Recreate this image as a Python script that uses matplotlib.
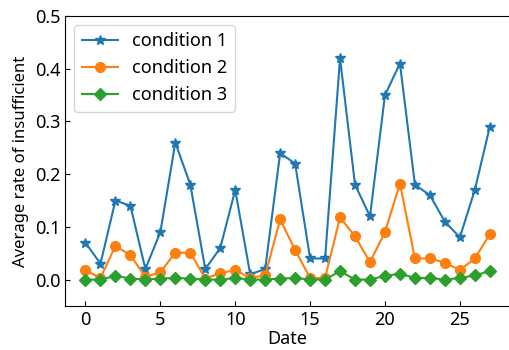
import matplotlib
matplotlib.use("Agg")
import matplotlib.pyplot as plt

plt.rcParams["font.family"] = ["Noto Sans", "DejaVu Sans"]

dates = list(range(28))
cond1 = [0.07, 0.03, 0.15, 0.14, 0.02, 0.09, 0.26, 0.18, 0.02, 0.06,
         0.17, 0.01, 0.02, 0.24, 0.22, 0.04, 0.04, 0.42, 0.18, 0.12,
         0.35, 0.41, 0.18, 0.16, 0.11, 0.08, 0.17, 0.29]
cond2 = [0.018, 0.003, 0.064, 0.046, 0.005, 0.014, 0.051, 0.051, 0.002, 0.012,
         0.018, 0.003, 0.008, 0.114, 0.056, 0.003, 0.003, 0.118, 0.082, 0.033,
         0.090, 0.182, 0.040, 0.040, 0.032, 0.018, 0.040, 0.086]
cond3 = [0.0, 0.0, 0.007, 0.002, 0.0, 0.002, 0.003, 0.002, 0.0, 0.0,
         0.003, 0.0, 0.0, 0.002, 0.003, 0.0, 0.0, 0.016, 0.0, 0.0,
         0.007, 0.011, 0.003, 0.003, 0.0, 0.003, 0.008, 0.016]

fig = plt.figure(figsize=(5.1, 3.5), dpi=100)
ax = fig.add_axes([0.128, 0.126, 0.872, 0.828])
ax.plot(dates, cond1, marker="*", markersize=7, label="condition 1")
ax.plot(dates, cond2, marker="o", markersize=7, label="condition 2")
ax.plot(dates, cond3, marker="D", markersize=6, label="condition 3")
ax.set_ylim(-0.05, 0.5)
ax.set_xlabel("Date", fontsize=13, labelpad=1)
ax.set_ylabel("Average rate of insufficient", fontsize=12)
ax.tick_params(direction="in", labelsize=13)
ax.legend(loc="upper left", fontsize=13)
fig.savefig("out.png", dpi=100)
